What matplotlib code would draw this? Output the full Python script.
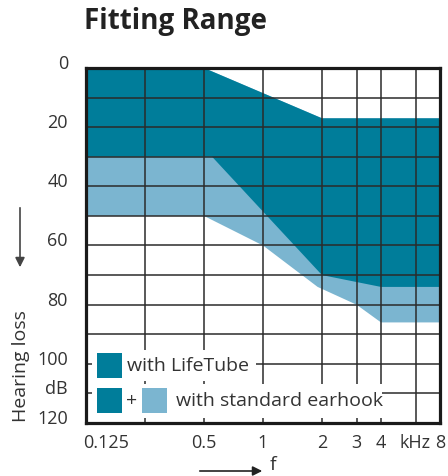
import matplotlib
matplotlib.use('Agg')
import matplotlib.pyplot as plt
import matplotlib.transforms as mtransforms
from matplotlib.patches import Rectangle
from matplotlib.ticker import NullLocator
import numpy as np

plt.rcParams['font.family'] = ['Open Sans', 'DejaVu Sans']

# fitting range boundaries (frequency in kHz, hearing loss in dB)
freq_lt_top = [0.125, 0.5, 2, 8]
loss_lt_top = [0, 0, 17, 17]
freq_lt_bottom = [0.125, 0.55, 2, 4, 8]
loss_lt_bottom = [30, 30, 70, 74, 74]
freq_hook_bottom = [0.125, 0.5, 1, 1.9, 3, 4, 8]
loss_hook_bottom = [50, 50, 60, 74, 80, 86, 86]

x_grid = [0.125, 0.25, 0.5, 1, 2, 3, 4, 6, 8]
x_labels = ['0.125', '', '0.5', '1', '2', '3', '4', 'kHz', '8']
y_ticks = [0, 20, 40, 60, 80, 100, 110, 120]
y_labels = ['0', '20', '40', '60', '80', '100', 'dB', '120']

DARK = '#007D9A'
LIGHT = '#7BB5D0'
GRID = '#2b2b2b'
TEXT = '#333333'

fig = plt.figure(figsize=(4.48, 4.76), dpi=100)
ax = fig.add_axes([86/448, 1 - 423/476, 354/448, 355/476])

# light (standard earhook) region, dark (LifeTube) region drawn on top
ax.fill(np.concatenate([freq_lt_top, freq_hook_bottom[::-1]]),
        np.concatenate([loss_lt_top, loss_hook_bottom[::-1]]),
        color=LIGHT, lw=0, zorder=1)
ax.fill(np.concatenate([freq_lt_top, freq_lt_bottom[::-1]]),
        np.concatenate([loss_lt_top, loss_lt_bottom[::-1]]),
        color=DARK, lw=0, zorder=1.5)

ax.set_xscale('log', base=2)
ax.set_xlim(0.125, 8)
ax.set_ylim(120, 0)

for xv in x_grid:
    ax.axvline(xv, color=GRID, lw=1.1, zorder=2)
for yv in range(0, 121, 10):
    ax.axhline(yv, color=GRID, lw=1.1, zorder=2)

ax.set_xticks(x_grid)
ax.set_xticklabels(x_labels)
ax.xaxis.set_minor_locator(NullLocator())
ax.tick_params(axis='x', length=0, pad=8, labelsize=13, labelcolor=TEXT)

ax.set_yticks(y_ticks)
ax.set_yticklabels(y_labels)
ax.set_yticks([100, 110], minor=True)
ax.tick_params(axis='y', which='major', length=0, pad=13, labelsize=13, labelcolor=TEXT)
ax.tick_params(axis='y', which='minor', length=5, width=1.1, color=GRID)

# nudge labels like the original
shift_up = mtransforms.ScaledTranslation(0, 6/100, fig.dpi_scale_trans)
for lab in ax.get_yticklabels():
    lab.set_transform(lab.get_transform() + shift_up)
first = ax.get_xticklabels()[0]
first.set_transform(first.get_transform() + mtransforms.ScaledTranslation(20/100, 0, fig.dpi_scale_trans))

for sp in ax.spines.values():
    sp.set_linewidth(2.3)
    sp.set_color('#1a1a1a')
    sp.set_zorder(5)

# legend built inside the axes
ta = ax.transAxes
ax.add_patch(Rectangle((0.017, 0.118), 0.463, 0.088, transform=ta, color='white', lw=0, zorder=3))
ax.add_patch(Rectangle((0.017, 0.014), 0.82, 0.096, transform=ta, color='white', lw=0, zorder=3))
ax.add_patch(Rectangle((0.031, 0.127), 0.071, 0.070, transform=ta, color=DARK, lw=0, zorder=4))
ax.add_patch(Rectangle((0.031, 0.028), 0.071, 0.070, transform=ta, color=DARK, lw=0, zorder=4))
ax.add_patch(Rectangle((0.158, 0.028), 0.071, 0.070, transform=ta, color=LIGHT, lw=0, zorder=4))
ax.text(0.116, 0.161, 'with LifeTube', transform=ta, va='center', ha='left',
        fontsize=14, color=TEXT, zorder=4)
ax.text(0.130, 0.063, '+', transform=ta, va='center', ha='center',
        fontsize=14, color=TEXT, zorder=4)
ax.text(0.254, 0.063, 'with standard earhook', transform=ta, va='center', ha='left',
        fontsize=14, color=TEXT, zorder=4)

fig.text(84/448, 1 - 22/476, 'Fitting Range', fontsize=20, fontweight='bold',
         color='#222222', va='center', ha='left')
fig.text(21/448, 1 - 366/476, 'Hearing loss', rotation=90, fontsize=14,
         color=TEXT, va='center', ha='center')

ax.annotate('', xy=(20, 476 - 270), xytext=(20, 476 - 205), xycoords='figure pixels',
            arrowprops=dict(arrowstyle='-|>', color='#444444', lw=1.2, mutation_scale=14))
ax.annotate('', xy=(265, 5), xytext=(197, 5), xycoords='figure pixels',
            arrowprops=dict(arrowstyle='-|>', color='#222222', lw=1.2, mutation_scale=14))
fig.text(270/448, 2/476, 'f', fontsize=14, color=TEXT, va='bottom', ha='left')

fig.savefig('out.png', dpi=100)
